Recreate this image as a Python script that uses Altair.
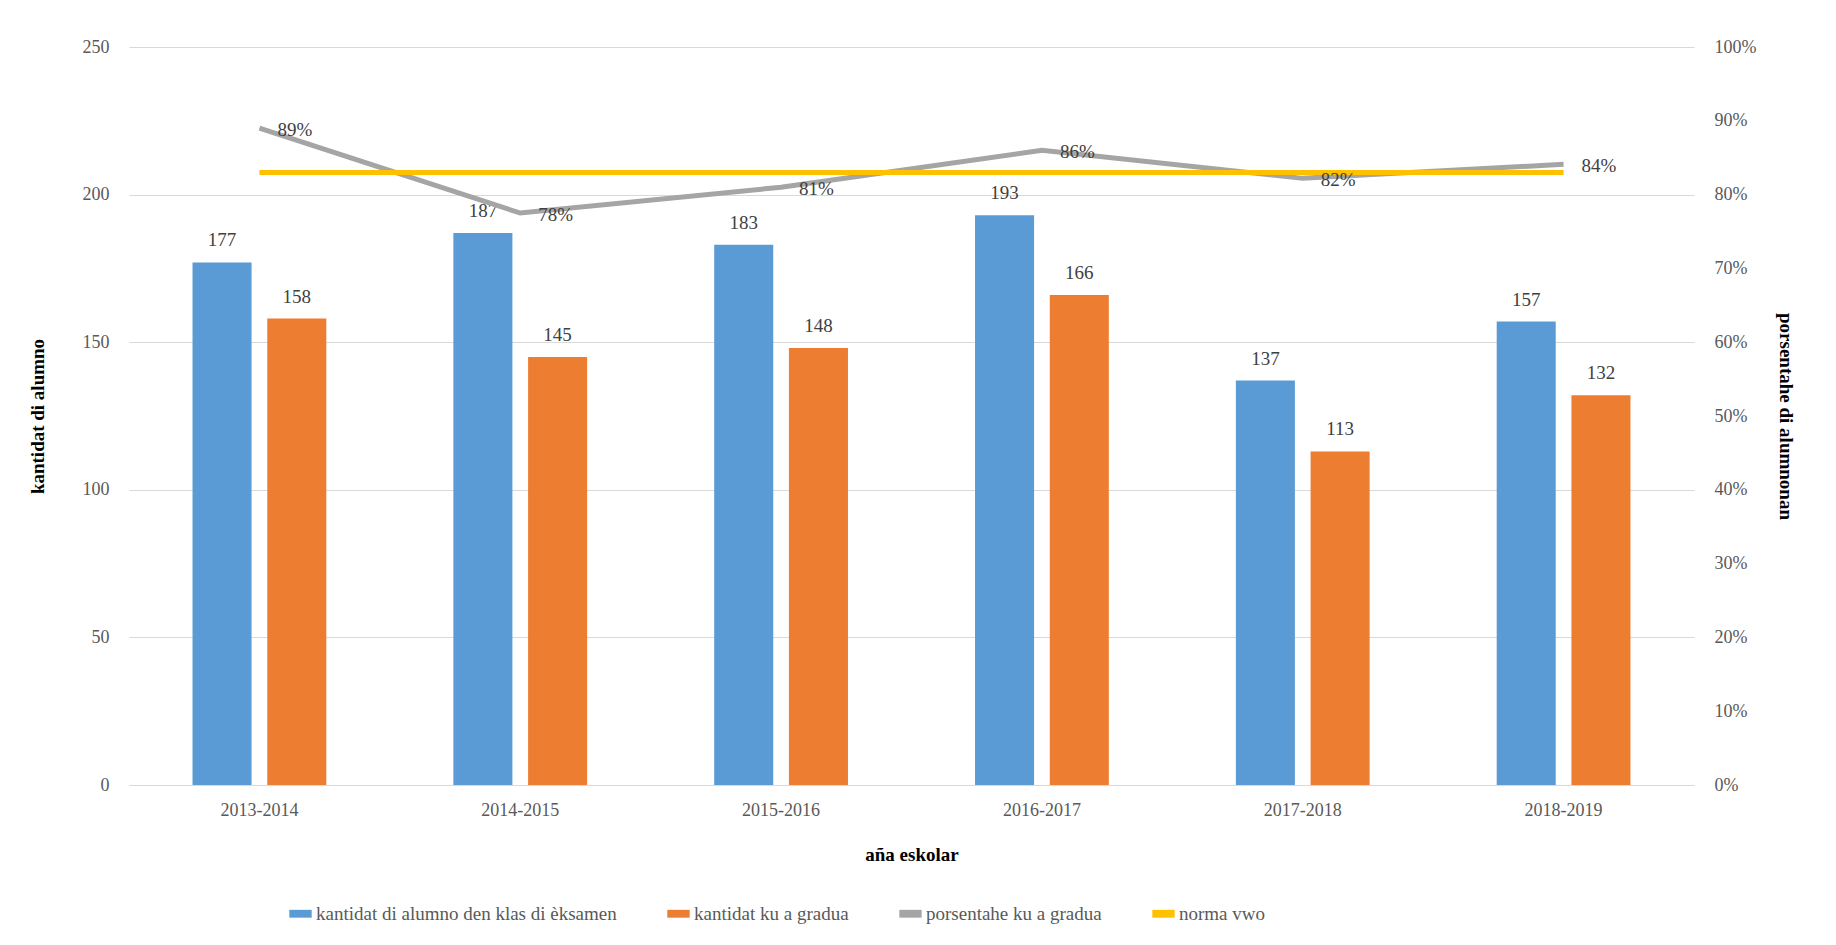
import altair as alt
import pandas as pd

years = ["2013-2014", "2014-2015", "2015-2016", "2016-2017", "2017-2018", "2018-2019"]
examen = [177, 187, 183, 193, 137, 157]
gradua = [158, 145, 148, 166, 113, 132]
pct = [0.89, 0.775, 0.81, 0.86, 0.822, 0.841]
pct_lbl = ["89%", "78%", "81%", "86%", "82%", "84%"]
norma = [0.83] * 6

s_ex = "kantidat di alumno den klas di èksamen"
s_gr = "kantidat ku a gradua"
s_pc = "porsentahe ku a gradua"
s_no = "norma vwo"

FONT = "Liberation Serif"
GREY = "#595959"

bars = pd.DataFrame({
    "year": years * 2,
    "serie": [s_ex] * 6 + [s_gr] * 6,
    "val": examen + gradua,
})
lines = pd.DataFrame({
    "year": years * 2,
    "serie": [s_pc] * 6 + [s_no] * 6,
    "pct": pct + norma,
    "lbl": pct_lbl + [""] * 6,
})

color = alt.Color("serie:N", scale=alt.Scale(
    domain=[s_ex, s_gr, s_pc, s_no],
    range=["#5b9bd5", "#ed7d31", "#a5a5a5", "#ffc000"]),
    legend=alt.Legend(title=None, orient="none", legendX=160, legendY=855,
                      direction="horizontal",
                      symbolType="M-1,-0.35H1V0.35H-1Z", symbolSize=500,
                      symbolStrokeWidth=0, labelFont=FONT, labelFontSize=19,
                      labelColor=GREY, columnPadding=50, labelLimit=500))

xenc = alt.X("year:N", sort=years, title="aña eskolar",
             scale=alt.Scale(paddingInner=0, paddingOuter=0),
             axis=alt.Axis(labelAngle=0, labelFont=FONT, labelFontSize=18, labelColor=GREY,
                           titleFont=FONT, titleFontSize=19, titleFontWeight="bold",
                           titleColor="black", domainColor="#d9d9d9", ticks=False,
                           labelPadding=16, titlePadding=26))

yb = alt.Y("val:Q", scale=alt.Scale(domain=[0, 250]), title="kantidat di alumno",
           axis=alt.Axis(values=[0, 50, 100, 150, 200, 250], labelFont=FONT,
                         labelFontSize=18, labelColor=GREY, gridColor="#d9d9d9",
                         domain=False, ticks=False, labelPadding=20,
                         titleFont=FONT, titleFontSize=19, titleColor="black",
                         titlePadding=35))
off = alt.XOffset("serie:N", sort=[s_ex, s_gr],
                  scale=alt.Scale(paddingInner=0.21, paddingOuter=0.85))

base_b = alt.Chart(bars).encode(x=xenc, xOffset=off, y=yb)
bar = base_b.mark_bar().encode(color=color)
btxt = base_b.mark_text(dy=-22, font=FONT, fontSize=19, color="#404040").encode(text="val:Q")

yp = alt.Y("pct:Q", scale=alt.Scale(domain=[0, 1]), title="porsentahe di alumnonan",
           axis=alt.Axis(orient="right", format="%", values=[i / 10 for i in range(11)],
                         labelFont=FONT, labelFontSize=18, labelColor=GREY, grid=False,
                         domain=False, ticks=False, labelPadding=20,
                         titleFont=FONT, titleFontSize=19, titleColor="black",
                         titlePadding=20))
base_l = alt.Chart(lines).encode(x=alt.X("year:N", sort=years), y=yp)
line = base_l.mark_line(strokeWidth=5).encode(color=color, detail="serie:N")
ltxt = base_l.mark_text(align="left", dx=18, dy=2, font=FONT, fontSize=19,
                        color="#404040").encode(text="lbl:N")

chart = alt.layer(alt.layer(bar, btxt), alt.layer(line, ltxt)).resolve_scale(
    y="independent"
).properties(width=1565, height=738, padding={"left": 20, "top": 30, "right": 15, "bottom": 10}
).configure_view(stroke=None)

chart.save("out.html", embed_options={"renderer": "svg", "actions": False})
